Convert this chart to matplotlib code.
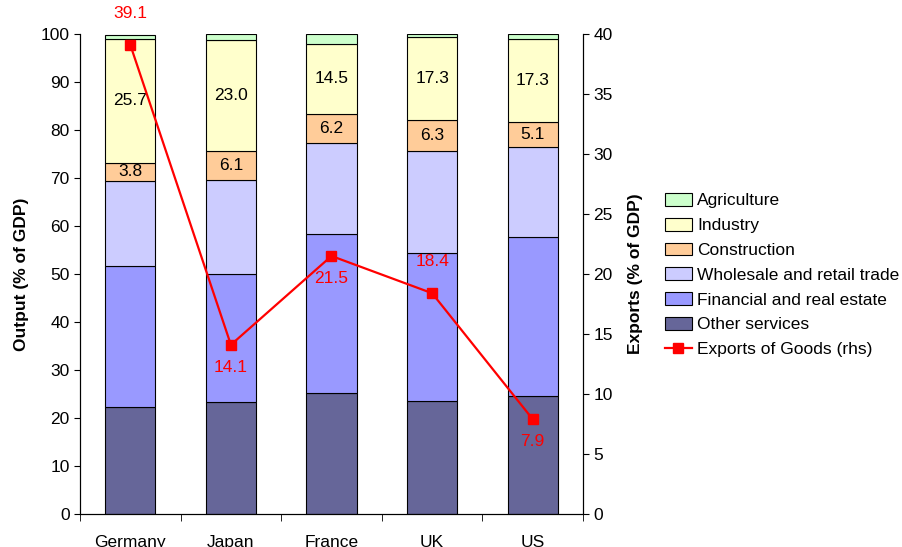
import numpy as np
import matplotlib.pyplot as plt
from matplotlib.ticker import FixedLocator

plt.rcParams['font.family'] = ['Liberation Sans', 'DejaVu Sans']
FS = 12.5

# Data
countries = ['Germany', 'Japan', 'France', 'UK', 'US']
other_services = [22.3, 23.4, 25.3, 23.5, 24.6]
financial = [29.4, 26.7, 33.0, 30.9, 33.2]
wholesale = [17.7, 19.5, 18.9, 21.3, 18.7]
construction = [3.8, 6.1, 6.2, 6.3, 5.1]
industry = [25.7, 23.0, 14.5, 17.3, 17.3]
agriculture = [0.9, 1.4, 2.1, 0.6, 1.1]
exports = [39.1, 14.1, 21.5, 18.4, 7.9]
export_label_pos = ['above', 'below', 'below', 'above', 'below']

series = [
    ('Other services', other_services, '#666699'),
    ('Financial and real estate', financial, '#9999FF'),
    ('Wholesale and retail trade', wholesale, '#CCCCFF'),
    ('Construction', construction, '#FFCC99'),
    ('Industry', industry, '#FFFFCC'),
    ('Agriculture', agriculture, '#CCFFCC'),
]

fig = plt.figure(figsize=(9.02, 5.47), dpi=100)
ax = fig.add_axes([80 / 902, 33 / 547, 503 / 902, 480 / 547])
x = np.arange(len(countries))

bottom = np.zeros(len(countries))
bars = {}
for name, vals, color in series:
    b = ax.bar(x, vals, width=0.5, bottom=bottom, color=color,
               edgecolor='black', linewidth=0.8, label=name)
    bars[name] = (b, bottom.copy(), np.array(vals))
    bottom += np.array(vals)

# value labels for construction and industry
for name in ['Construction', 'Industry']:
    b, bot, vals = bars[name]
    for i in range(len(countries)):
        ax.text(x[i], bot[i] + vals[i] / 2, f'{vals[i]:.1f}', ha='center',
                va='center', fontsize=FS)

ax.set_xlim(-0.5, len(countries) - 0.5)
ax.set_ylim(0, 100)
ax.set_yticks(np.arange(0, 101, 10))
ax.set_xticks(x)
ax.set_xticklabels(countries, fontsize=FS)
ax.xaxis.set_minor_locator(FixedLocator(np.arange(-0.5, len(countries), 1.0)))
ax.tick_params(axis='x', which='major', length=0, pad=15)
ax.tick_params(axis='x', which='minor', length=5, direction='out')
ax.tick_params(axis='y', labelsize=FS, length=4, direction='out')
ax.spines['top'].set_visible(False)
ax.set_ylabel('Output (% of GDP)', fontsize=FS, fontweight='bold', labelpad=8)

ax2 = ax.twinx()
line, = ax2.plot(x, exports, color='red', marker='s', markersize=7,
                 linewidth=1.6, label='Exports of Goods (rhs)')
ax2.set_ylim(0, 40)
ax2.set_yticks(np.arange(0, 41, 5))
ax2.tick_params(axis='y', labelsize=FS, length=4, direction='out')
ax2.spines['top'].set_visible(False)
ax2.set_ylabel('Exports (% of GDP)', fontsize=FS, fontweight='bold', labelpad=11)

for i, v in enumerate(exports):
    dy = 22.5 if export_label_pos[i] == 'above' else -16
    ax2.annotate(f'{v:.1f}', (x[i], v), xytext=(0, dy), textcoords='offset points',
                 ha='center', va='center', color='red', fontsize=FS,
                 annotation_clip=False)

handles, labels = ax.get_legend_handles_labels()
handles = handles[::-1] + [line]
labels = labels[::-1] + [line.get_label()]
fig.legend(handles, labels, loc='center left', bbox_to_anchor=(665 / 902, 0.497),
           frameon=False, fontsize=FS, handlelength=1.55, handleheight=0.75,
           labelspacing=0.54, handletextpad=0.3, borderpad=0, borderaxespad=0)

fig.savefig('out.png', dpi=100)
